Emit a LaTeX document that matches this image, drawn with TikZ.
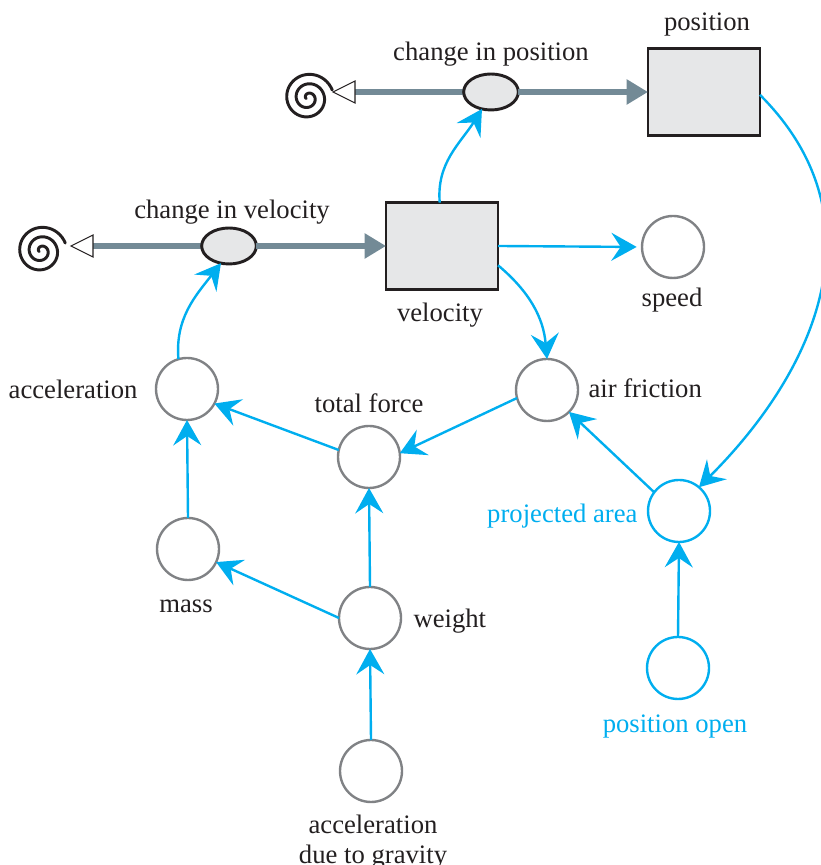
\documentclass[tikz,border=0pt]{standalone}
\usepackage{fontspec}
\setmainfont{Liberation Serif}
\usetikzlibrary{arrows.meta,shapes.geometric}
\definecolor{linkblue}{HTML}{00AEEF}
\definecolor{flowgray}{HTML}{738A96}
\definecolor{stockfill}{HTML}{E6E7E8}
\definecolor{ringgray}{HTML}{808285}
\definecolor{inkblack}{HTML}{231F20}
\tikzset{
    stockbox/.style={draw=inkblack,fill=stockfill,line width=1.1pt,minimum width=42pt,minimum height=32.5pt,inner sep=0pt,outer sep=0pt},
    valve/.style={ellipse,draw=inkblack,fill=stockfill,line width=1.1pt,minimum width=20.5pt,minimum height=13.5pt,inner sep=0pt,outer sep=0pt},
    aux/.style={circle,draw=ringgray,line width=.9pt,minimum size=23.25pt,inner sep=0pt,outer sep=0pt},
    auxblue/.style={aux,draw=linkblue},
    word/.style={text=inkblack,inner sep=0pt,anchor=base,yshift=-.375pt},
    wordblue/.style={word,text=linkblue},
    flow/.style={draw=flowgray,line width=2.6pt},
    flowhead/.style={flow,-{Triangle[length=8pt,width=9pt]}},
    link/.style={draw=linkblue,line width=.9pt,-{Stealth[length=9.5pt,width=10.5pt,inset=3.5pt]}},
    spiral/.pic={\draw[inkblack,line width=1.1pt,line cap=round] plot[domain=0:900,samples=120,smooth] ({(25.5-\x/38)*cos(18+\x)},{(25.5-\x/38)*sin(18+\x)});},
}
\begin{document}
\begin{tikzpicture}[x=.375pt,y=.375pt]
    \useasboundingbox (0,0) rectangle (821,865);
    \coordinate (posdrain) at (355,773);
    \coordinate (veldrain) at (93,619);
    \draw[flow] (posdrain) -- (491,773);
    \draw[flow] (veldrain) -- (229,619);
    \node[stockbox] (position) at (704,773) {};
    \node[stockbox] (velocity) at (442,619) {};
    \node[valve] (chgpos) at (491,773) {};
    \node[valve] (chgvel) at (229,619) {};
    \draw[flowhead] (chgpos.east) -- (position.west);
    \draw[flowhead] (chgvel.east) -- (velocity.west);
    \pic at (308,767) {spiral};
    \pic at (41,614) {spiral};
    \draw[inkblack,fill=white,line width=.4pt] (333,773) -- (355,784) -- (355,762) -- cycle;
    \draw[inkblack,fill=white,line width=.4pt] (71,619) -- (93,630) -- (93,608) -- cycle;
    \node[aux] (speed) at (673,618) {};
    \node[aux] (airfriction) at (547,475) {};
    \node[aux] (acceleration) at (187,476) {};
    \node[aux] (totalforce) at (369,408) {};
    \node[aux] (mass) at (188,316) {};
    \node[aux] (weight) at (370,247) {};
    \node[aux] (gravity) at (371,94) {};
    \node[auxblue] (projarea) at (679,354) {};
    \node[auxblue] (posopen) at (678,197) {};
    \node[word] (chgposlabel) at (491,805) {change in position};
    \node[word] (positionlabel) at (707,835) {position};
    \node[word] (chgvellabel) at (232,647) {change in velocity};
    \node[word] (velocitylabel) at (440,544) {velocity};
    \node[word] (speedlabel) at (672,559) {speed};
    \node[word,anchor=base west] (airlabel) at (588,468) {air friction};
    \node[word,anchor=base east] (acclabel) at (138,467) {acceleration};
    \node[word] (totallabel) at (369,453) {total force};
    \node[word] (masslabel) at (186,253) {mass};
    \node[word,anchor=base west] (weightlabel) at (413,238) {weight};
    \node[word] (gravlabela) at (373,33) {acceleration};
    \node[word] (gravlabelb) at (373,3) {due to gravity};
    \node[wordblue,anchor=base east] (projlabel) at (638,343) {projected area};
    \node[wordblue] (openlabel) at (675,133) {position open};
    \draw[link] (gravity.north) -- (weight.south);
    \draw[link] (weight.180) -- (mass.-25);
    \draw[link] (weight.north) -- (totalforce.south);
    \draw[link] (mass.north) -- (acceleration.south);
    \draw[link] (totalforce.167) -- (acceleration.-28);
    \draw[link] (airfriction.195) -- (totalforce.7);
    \draw[link] (projarea.143) -- (airfriction.-45);
    \draw[link] (posopen.north) -- (projarea.south);
    \draw[link] (acceleration.106) to[out=95,in=232] (chgvel.-115);
    \draw[link] (velocity.93) to[out=95,in=238] (chgpos.-118);
    \draw[link,shorten >=2pt] (velocity.east) -- (speed.west);
    \draw[link] (velocity.-19) to[out=-40,in=95] (airfriction.north);
    \draw[link] (position.-3) to[out=-45,in=45,looseness=1.1] (projarea.50);
\end{tikzpicture}
\end{document}
